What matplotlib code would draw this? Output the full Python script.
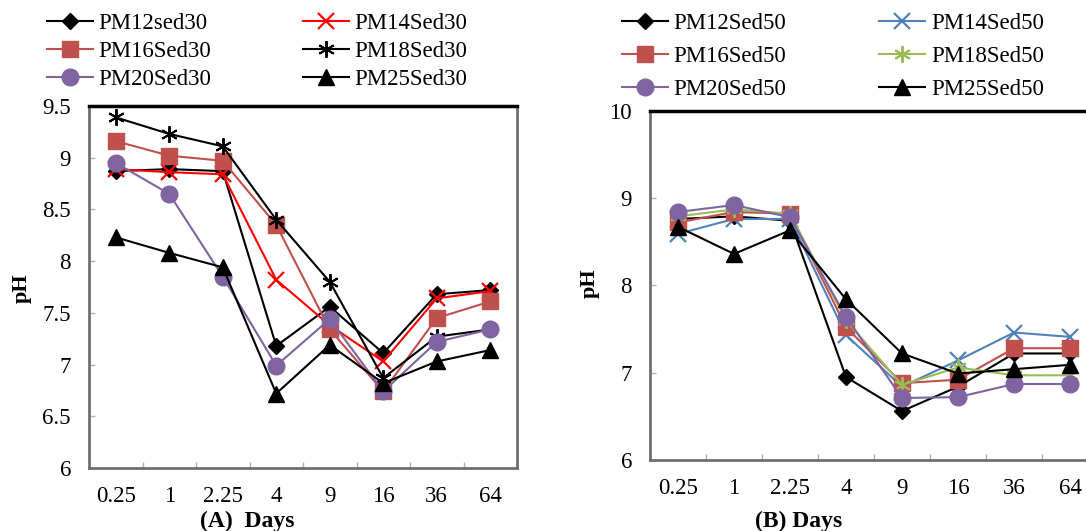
import matplotlib.pyplot as plt
from matplotlib.ticker import FixedLocator

plt.rcParams['font.family'] = ['Liberation Serif', 'DejaVu Serif']

days = ['0.25', '1', '2.25', '4', '9', '16', '36', '64']

# (A) Sed30
pm12_sed30 = [8.87, 8.89, 8.87, 7.18, 7.56, 7.11, 7.68, 7.72]
pm14_sed30 = [8.89, 8.86, 8.84, 7.82, 7.38, 7.03, 7.64, 7.71]
pm16_sed30 = [9.16, 9.02, 8.97, 8.35, 7.34, 6.74, 7.45, 7.61]
pm18_sed30 = [9.39, 9.23, 9.11, 8.40, 7.80, 6.87, 7.27, 7.34]
pm20_sed30 = [8.95, 8.65, 7.85, 6.99, 7.44, 6.74, 7.22, 7.34]
pm25_sed30 = [8.23, 8.08, 7.94, 6.72, 7.19, 6.82, 7.03, 7.14]

# (B) Sed50
pm12_sed50 = [8.76, 8.79, 8.74, 6.95, 6.56, 6.84, 7.22, 7.22]
pm14_sed50 = [8.59, 8.76, 8.76, 7.43, 6.84, 7.14, 7.46, 7.41]
pm16_sed50 = [8.72, 8.84, 8.82, 7.52, 6.88, 6.92, 7.28, 7.28]
pm18_sed50 = [8.79, 8.87, 8.82, 7.60, 6.86, 7.06, 6.97, 6.97]
pm20_sed50 = [8.84, 8.92, 8.78, 7.64, 6.71, 6.72, 6.87, 6.87]
pm25_sed50 = [8.67, 8.36, 8.63, 7.84, 7.22, 6.99, 7.04, 7.09]

asterisk = (6, 2, 0)

styles_a = [
    ('PM12sed30', pm12_sed30, dict(color='black', marker='D', ms=8.5)),
    ('PM14Sed30', pm14_sed30, dict(color='#FF0000', marker='x', ms=11, mew=1.6)),
    ('PM16Sed30', pm16_sed30, dict(color='#C0504D', marker='s', ms=11)),
    ('PM18Sed30', pm18_sed30, dict(color='black', marker=asterisk, ms=12, mew=1.4)),
    ('PM20Sed30', pm20_sed30, dict(color='#8064A2', marker='o', ms=12)),
    ('PM25Sed30', pm25_sed30, dict(color='black', marker='^', ms=11)),
]
styles_b = [
    ('PM12Sed50', pm12_sed50, dict(color='black', marker='D', ms=8.5)),
    ('PM14Sed50', pm14_sed50, dict(color='#4F81BD', marker='x', ms=11, mew=1.6)),
    ('PM16Sed50', pm16_sed50, dict(color='#C0504D', marker='s', ms=11)),
    ('PM18Sed50', pm18_sed50, dict(color='#9BBB59', marker=asterisk, ms=12, mew=1.4)),
    ('PM20Sed50', pm20_sed50, dict(color='#8064A2', marker='o', ms=12)),
    ('PM25Sed50', pm25_sed50, dict(color='black', marker='^', ms=11)),
]

fig = plt.figure(figsize=(10.86, 5.31), dpi=100)
ax_a = fig.add_axes([89 / 1086, 1 - 468 / 531, 428 / 1086, 362 / 531])
ax_b = fig.add_axes([650 / 1086, 1 - 460 / 531, 448 / 1086, 349.3 / 531])

x = list(range(len(days)))


def draw(ax, styles, ylim, yticks, ylabels):
    lines = []
    for name, vals, st in styles:
        ln, = ax.plot(x, vals, lw=1.5, label=name, **st)
        lines.append(ln)
    ax.set_xlim(-0.5, len(days) - 0.5)
    ax.set_ylim(*ylim)
    ax.set_xticks(x)
    ax.set_xticklabels(days, fontsize=16.5)
    ax.xaxis.set_minor_locator(FixedLocator([i + 0.5 for i in range(len(days) - 1)]))
    ax.tick_params(axis='x', which='major', length=0, pad=13)
    ax.tick_params(axis='x', which='minor', direction='in', length=4, width=1, color='#b0b0b0')
    ax.set_yticks(yticks)
    ax.set_yticklabels(ylabels, fontsize=16.5)
    ax.tick_params(axis='y', direction='in', length=4, width=1, color='#b0b0b0', pad=13)
    for s in ['left', 'bottom', 'right']:
        ax.spines[s].set_color('#707070')
        ax.spines[s].set_linewidth(2)
    ax.spines['top'].set_color('black')
    ax.spines['top'].set_linewidth(2.5)
    return lines


la = draw(ax_a, styles_a, (6, 9.5), [6, 6.5, 7, 7.5, 8, 8.5, 9, 9.5],
          ['6', '6.5', '7', '7.5', '8', '8.5', '9', '9.5'])
lb = draw(ax_b, styles_b, (6, 10), [6, 7, 8, 9, 10], ['6', '7', '8', '9', '10'])

order = [0, 2, 4, 1, 3, 5]
leg_kw = dict(ncol=2, frameon=False, fontsize=16.5, handlelength=2.0, handletextpad=0.25,
              borderpad=0, borderaxespad=0, loc='upper left')
fig.legend([la[i] for i in order], [la[i].get_label() for i in order],
           bbox_to_anchor=(47 / 1086, 1 - 13 / 531), columnspacing=4.0,
           labelspacing=0.3, **leg_kw)
fig.legend([lb[i] for i in order], [lb[i].get_label() for i in order],
           bbox_to_anchor=(622 / 1086, 1 - 13 / 531), columnspacing=4.05,
           labelspacing=0.53, **leg_kw)

fig.text(22 / 1086, 1 - 288 / 531, 'pH', rotation=90, fontsize=16, fontweight='bold',
         ha='center', va='center')
fig.text(590 / 1086, 1 - 283 / 531, 'pH', rotation=90, fontsize=16, fontweight='bold',
         ha='center', va='center')
fig.text(247 / 1086, 1 - 521 / 531, '(A)  Days', fontsize=17, fontweight='bold',
         ha='center', va='center')
fig.text(799 / 1086, 1 - 521 / 531, '(B) Days', fontsize=17, fontweight='bold',
         ha='center', va='center')

fig.savefig('out.png', dpi=100)
